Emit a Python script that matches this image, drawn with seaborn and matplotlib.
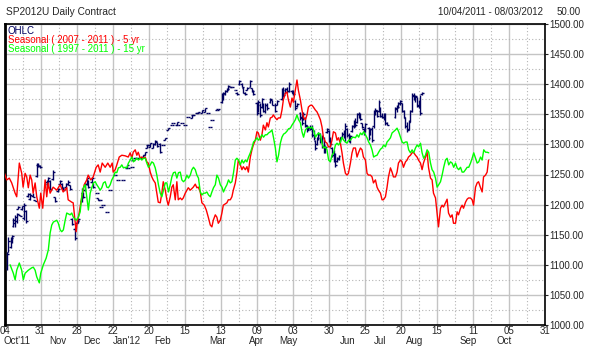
import numpy as np
import pandas as pd
import matplotlib
matplotlib.use("Agg")
import matplotlib.pyplot as plt
import matplotlib.transforms as mtransforms
from matplotlib.ticker import MultipleLocator, FormatStrFormatter
import seaborn as sns

# x axis is trading days counted from 04 Oct 2011
tick_days = list(range(0, 271, 18))
tick_labels = ['04', '31', '28', '22', '20', '15', '13', '09', '03',
               '30', '25', '20', '15', '11', '05', '31']
month_days = [-0.5, 26.8, 43.8, 61, 79, 106.5, 125.8, 141.8, 171.5, 187.8, 204.8, 231.5, 249.8]
month_labels = ["Oct'11", 'Nov', 'Dec', "Jan'12", 'Feb', 'Mar', 'Apr', 'May',
                'Jun', 'Jul', 'Aug', 'Sep', 'Oct']

# OHLC bars of the SP2012U contract
ohlc_day = [1.4, 1.9, 3.3, 3.6, 4.4, 5.3, 6.1, 6.8, 7.8, 8.6, 9.8, 10.8, 11.8, 12.8, 14.3, 15.3,
            16.1, 16.8, 17.8, 21.1, 21.8, 22.8, 24.3, 25.3, 26.8, 27.8, 28.6, 29.3, 30.8, 31.8,
            32.8, 33.8, 35.3, 36.1, 36.8, 38.6, 39.3, 40.3, 41.1, 41.9, 43.6, 44.4, 46.1, 46.8,
            47.8, 48.3, 49.3, 51.1, 52.8, 55.3, 56.8, 59.3, 61.1, 61.8, 63.6, 64.3, 65.3, 66.1,
            67.8, 69.3, 70.3, 71.1, 71.8, 72.8, 74.3, 75.3, 76.1, 77.8, 79.3, 80.3, 81.8, 83.8,
            84.3, 86.1, 86.8, 88.6, 90.3, 91.8, 93.6, 94.3, 96.1, 96.8, 98.6, 100.3, 101.8, 102.8,
            103.6, 106.1, 106.8, 108.6, 109.3, 110.3, 111.1, 111.8, 112.8, 113.6, 115.3, 116.1,
            117.3, 118.6, 119.3, 120.3, 121.1, 122.8, 123.6, 124.3, 126.1, 126.8, 127.8, 128.6,
            129.3, 130.3, 131.1, 132.8, 133.6, 135.3, 136.1, 138.6, 139.3, 140.3, 141.1, 142.3,
            143.6, 144.3, 145.3, 146.1, 147.8, 148.6, 149.3, 150.3, 151.1, 151.8, 152.8, 153.6,
            154.4, 155.3, 156.1, 156.8, 157.8, 158.6, 159.4, 160.3, 161.1, 161.9, 162.8, 163.6,
            164.4, 165.3, 166.1, 166.9, 167.8, 168.6, 169.4, 170.3, 171.1, 171.9, 172.8, 173.6,
            174.4, 175.3, 176.1, 176.9, 177.8, 178.6, 179.4, 180.3, 181.9, 182.8, 183.6, 184.4,
            185.3, 186.1, 186.9, 187.8, 188.6, 189.4, 190.3, 191.1, 195.3, 196.1, 196.8, 197.8,
            198.6, 199.4, 200.3, 201.1, 201.9, 202.8, 203.6, 204.4, 205.3, 206.1, 206.9, 207.8,
            208.6]
ohlc_high = [1121, 1146, 1146, 1150, 1178, 1183, 1186, 1198, 1183, 1198, 1203, 1191, 1219, 1219, 1219, 1208,
             1269, 1269, 1266, 1241, 1246, 1241, 1257, 1213, 1228, 1241, 1236, 1229, 1236, 1241,
             1233, 1178, 1163, 1174, 1178, 1228, 1221, 1236, 1246, 1241, 1246, 1236, 1219, 1211,
             1208, 1196, 1199, 1188, 1224, 1249, 1241, 1241, 1266, 1261, 1262, 1274, 1277, 1277,
             1277, 1282, 1287, 1299, 1299, 1302, 1302, 1307, 1304, 1302, 1299, 1311, 1327, 1332,
             1336, 1337, 1332, 1336, 1332, 1346, 1349, 1349, 1352, 1354, 1357, 1360, 1352, 1329,
             1341, 1357, 1359, 1385, 1387, 1390, 1394, 1399, 1395, 1395, 1390, 1387,
             1407, 1402, 1395, 1387, 1395, 1407, 1394, 1390, 1370, 1374, 1369, 1377,
             1369, 1369, 1369, 1377, 1374, 1369, 1374, 1394, 1395, 1394, 1395, 1404,
             1390, 1390, 1374, 1369, 1354, 1352, 1354, 1346, 1332, 1329, 1332, 1332,
             1324, 1307, 1312, 1321, 1319, 1316, 1312, 1299, 1327, 1324, 1312, 1296,
             1291, 1286, 1279, 1282, 1312, 1321, 1324, 1336, 1327, 1319, 1316, 1332,
             1341, 1344, 1352, 1354, 1352, 1336, 1327, 1336, 1329, 1327, 1329, 1357,
             1360, 1357, 1374, 1362, 1352, 1352, 1352, 1337, 1362, 1365, 1370, 1374,
             1369, 1357, 1346, 1337, 1341, 1357, 1385, 1385, 1382, 1379, 1374, 1382,
             1387]
ohlc_low = [1091, 1121, 1128, 1136, 1163, 1163, 1169, 1192, 1181, 1191, 1174, 1169, 1213, 1208, 1213, 1206,
            1246, 1262, 1261, 1228, 1233, 1224, 1241, 1204, 1221, 1233, 1226, 1224, 1228, 1233,
            1224, 1166, 1141, 1169, 1169, 1204, 1211, 1223, 1233, 1228, 1236, 1228, 1219, 1208,
            1208, 1196, 1199, 1188, 1224, 1249, 1241, 1241, 1261, 1261, 1262, 1274, 1277, 1277,
            1277, 1279, 1282, 1294, 1299, 1296, 1294, 1299, 1296, 1286, 1299, 1307, 1324, 1332,
            1336, 1332, 1332, 1336, 1332, 1346, 1344, 1349, 1352, 1352, 1352, 1354, 1352, 1329,
            1341, 1357, 1359, 1369, 1374, 1382, 1387, 1390, 1395, 1395, 1390, 1382,
            1399, 1395, 1385, 1382, 1390, 1395, 1387, 1382, 1349, 1354, 1346, 1360,
            1354, 1352, 1357, 1369, 1365, 1354, 1365, 1374, 1379, 1385, 1385, 1387,
            1385, 1382, 1357, 1362, 1341, 1332, 1341, 1329, 1321, 1324, 1324, 1312,
            1307, 1291, 1299, 1307, 1302, 1294, 1286, 1286, 1319, 1304, 1296, 1279,
            1271, 1262, 1271, 1274, 1304, 1312, 1311, 1304, 1312, 1304, 1302, 1321,
            1327, 1329, 1336, 1344, 1341, 1327, 1316, 1321, 1307, 1316, 1304, 1327,
            1349, 1346, 1354, 1346, 1344, 1341, 1332, 1332, 1344, 1354, 1360, 1365,
            1354, 1344, 1327, 1321, 1324, 1337, 1354, 1374, 1370, 1362, 1360, 1349,
            1382]
ohlc_open = [1095, 1122, 1130, 1140, 1165, 1170, 1172, 1192, 1183, 1192, 1178, 1190, 1214, 1210, 1215, 1208,
             1248, 1266, 1264, 1238, 1234, 1240, 1242, 1212, 1222, 1234, 1235, 1228, 1229, 1235,
             1232, 1176, 1160, 1170, 1170, 1206, 1219, 1224, 1235, 1240, 1238, 1235, 1219, 1211,
             1208, 1196, 1199, 1188, 1224, 1249, 1241, 1241, 1261, 1261, 1262, 1274, 1277, 1277,
             1277, 1279, 1282, 1294, 1299, 1296, 1294, 1300, 1304, 1300, 1299, 1307, 1324, 1332,
             1336, 1332, 1332, 1336, 1332, 1346, 1344, 1349, 1352, 1352, 1352, 1354, 1352, 1329,
             1341, 1357, 1359, 1370, 1376, 1384, 1388, 1391, 1395, 1395, 1390, 1386,
             1400, 1400, 1394, 1385, 1390, 1396, 1393, 1388, 1368, 1356, 1366, 1362,
             1366, 1355, 1366, 1370, 1373, 1366, 1366, 1376, 1390, 1386, 1392, 1388,
             1389, 1386, 1372, 1363, 1352, 1345, 1342, 1344, 1330, 1325, 1328, 1328,
             1315, 1305, 1300, 1310, 1316, 1305, 1298, 1290, 1320, 1322, 1308, 1294,
             1282, 1276, 1272, 1276, 1305, 1312, 1318, 1312, 1326, 1315, 1308, 1322,
             1330, 1338, 1338, 1350, 1346, 1335, 1326, 1322, 1327, 1317, 1325, 1330,
             1352, 1355, 1356, 1360, 1348, 1346, 1344, 1335, 1346, 1358, 1362, 1367,
             1368, 1355, 1344, 1330, 1326, 1338, 1356, 1380, 1376, 1378, 1364, 1370,
             1383]
ohlc_close = [1118, 1140, 1144, 1148, 1175, 1180, 1184, 1196, 1181, 1197, 1200, 1172, 1218, 1216, 1213, 1206,
              1265, 1264, 1262, 1230, 1244, 1226, 1254, 1206, 1226, 1240, 1228, 1225, 1234, 1238,
              1226, 1168, 1145, 1173, 1176, 1225, 1213, 1234, 1244, 1230, 1244, 1230, 1219, 1208,
              1208, 1196, 1199, 1188, 1224, 1249, 1241, 1241, 1266, 1261, 1262, 1274, 1277, 1277,
              1277, 1282, 1287, 1299, 1299, 1302, 1300, 1305, 1298, 1288, 1299, 1311, 1327, 1332,
              1336, 1337, 1332, 1336, 1332, 1346, 1349, 1349, 1352, 1354, 1357, 1360, 1352, 1329,
              1341, 1357, 1359, 1383, 1385, 1388, 1392, 1397, 1395, 1395, 1390, 1383,
              1405, 1396, 1386, 1383, 1394, 1405, 1388, 1383, 1352, 1370, 1349, 1375,
              1356, 1366, 1360, 1376, 1366, 1356, 1372, 1390, 1382, 1392, 1388, 1400,
              1386, 1384, 1360, 1367, 1344, 1336, 1350, 1332, 1324, 1328, 1326, 1315,
              1310, 1294, 1310, 1318, 1305, 1298, 1290, 1296, 1325, 1308, 1300, 1282,
              1276, 1266, 1277, 1280, 1310, 1318, 1314, 1330, 1315, 1308, 1314, 1330,
              1338, 1333, 1350, 1346, 1342, 1329, 1318, 1334, 1310, 1325, 1308, 1354,
              1357, 1348, 1370, 1348, 1346, 1344, 1335, 1333, 1360, 1362, 1368, 1372,
              1356, 1346, 1330, 1324, 1338, 1355, 1382, 1376, 1380, 1365, 1370, 1352,
              1386]

# Seasonal (2007 - 2011) 5 yr
red_day = [0.0, 1.1, 2.4, 3.6, 5.3, 6.1, 7.4, 8.6, 9.3, 10.3, 11.1, 11.9, 12.8, 13.6, 14.3, 15.3,
           16.1, 17.4, 18.1, 19.1, 20.3, 21.1, 21.8, 22.8, 24.3, 26.1, 27.8, 29.3, 31.1, 31.8,
           33.6, 34.3, 35.3, 35.8, 36.3, 37.3, 38.6, 39.8, 41.1, 41.8, 43.1, 44.3, 45.8, 46.8,
           47.8, 48.8, 50.3, 51.6, 52.8, 53.8, 54.3, 55.3, 56.1, 57.3, 58.6, 60.3, 61.8, 62.8,
           63.6, 64.3, 65.3, 66.1, 66.8, 67.8, 68.6, 69.3, 70.3, 71.1, 71.8, 72.8, 73.6, 74.3,
           75.3, 76.1, 76.8, 77.8, 78.6, 79.3, 80.3, 81.1, 81.8, 82.8, 83.6, 84.3, 85.3, 86.1,
           86.8, 87.8, 88.6, 89.3, 90.3, 91.8, 92.8, 94.3, 95.3, 96.1, 96.8, 97.8, 98.6, 99.8,
           100.8, 101.8, 102.8, 103.6, 104.3, 105.3, 106.1, 106.8, 107.8, 108.6, 109.3, 111.1,
           111.8, 112.8, 113.6, 114.3, 115.3, 116.1, 116.8, 117.8, 118.6, 119.3, 120.3, 121.1,
           121.8, 122.8, 123.6, 124.3, 125.3, 126.1, 126.8, 127.8, 128.6, 129.3, 130.3, 131.1,
           131.8, 132.8, 133.6, 134.3, 135.3, 136.1, 136.8, 137.8, 138.6, 139.3, 140.3, 141.1,
           141.8, 142.8, 143.6, 144.3, 145.3, 146.1, 146.8, 147.8, 148.6, 149.3, 150.3, 151.1,
           151.8, 152.8, 153.6, 154.3, 155.3, 156.1, 156.8, 157.8, 158.6, 159.3, 160.3, 161.1,
           161.8, 162.8, 163.6, 164.3, 165.3, 166.1, 166.8, 167.8, 168.6, 169.3, 170.3, 171.1,
           171.8, 172.8, 173.6, 174.3, 175.3, 176.1, 176.8, 177.8, 178.6, 179.3, 180.3, 181.1,
           181.8, 182.8, 183.6, 184.3, 185.3, 186.1, 186.8, 187.8, 188.6, 189.3, 190.3, 191.1,
           191.8, 192.8, 193.6, 194.3, 195.3, 196.1, 196.8, 197.8, 198.6, 199.3, 200.3, 201.1,
           201.8, 202.8, 203.6, 204.3, 205.3, 206.1, 206.8, 207.8, 208.6, 209.3, 210.3, 211.1,
           211.8, 212.8, 213.6, 214.3, 215.3, 216.1, 216.8, 217.8, 218.6, 219.3, 220.3, 221.1,
           221.8, 222.8, 223.6, 224.3, 225.3, 226.1, 226.8, 227.8, 228.6, 229.3, 230.3, 231.1,
           231.8, 232.8, 233.6, 234.3, 235.3, 236.1, 236.8, 237.8, 238.6, 239.3, 240.3, 241.1,
           241.8]
red_val = [1252, 1241, 1244, 1236, 1219, 1213, 1269, 1252, 1229, 1252, 1246, 1228, 1249, 1241, 1219, 1236,
           1213, 1194, 1219, 1194, 1241, 1213, 1236, 1219, 1229, 1224, 1233, 1221, 1228, 1208,
           1204, 1203, 1171, 1155, 1170, 1186, 1213, 1233, 1241, 1249, 1241, 1246, 1262, 1266,
           1254, 1269, 1262, 1269, 1262, 1269, 1254, 1258, 1266, 1279, 1282, 1281, 1279, 1286,
           1277, 1287, 1291, 1282, 1287, 1277, 1279, 1277, 1279, 1271, 1269, 1254, 1246, 1241,
           1236, 1219, 1204, 1203, 1219, 1238, 1224, 1208, 1199, 1213, 1229, 1233, 1208, 1238,
           1208, 1211, 1208, 1211, 1219, 1228, 1224, 1229, 1234, 1228, 1229, 1221, 1203, 1199,
           1191, 1179, 1166, 1163, 1174, 1183, 1179, 1169, 1174, 1186, 1199, 1203,
           1208, 1208, 1213, 1224, 1236, 1253, 1274, 1266, 1258, 1263, 1258, 1263,
           1254, 1279, 1291, 1299, 1307, 1321, 1319, 1307, 1316, 1332, 1324, 1336,
           1329, 1344, 1345, 1349, 1344, 1341, 1344, 1344, 1357, 1374, 1385, 1387,
           1374, 1362, 1377, 1370, 1390, 1407, 1390, 1374, 1357, 1345, 1341, 1349,
           1362, 1365, 1365, 1362, 1357, 1354, 1349, 1341, 1329, 1312, 1304, 1302,
           1296, 1296, 1307, 1321, 1319, 1307, 1311, 1302, 1286, 1269, 1252, 1249,
           1252, 1269, 1286, 1294, 1294, 1279, 1286, 1294, 1291, 1279, 1274, 1252,
           1249, 1249, 1246, 1236, 1241, 1229, 1224, 1219, 1208, 1208, 1213, 1229,
           1246, 1261, 1254, 1246, 1246, 1254, 1269, 1274, 1271, 1262, 1271, 1274,
           1279, 1282, 1286, 1287, 1282, 1279, 1274, 1269, 1258, 1269, 1279, 1287,
           1262, 1244, 1241, 1219, 1211, 1186, 1163, 1194, 1199, 1196, 1203, 1209,
           1186, 1179, 1183, 1169, 1169, 1188, 1183, 1194, 1199, 1194, 1204, 1209,
           1211, 1211, 1208, 1199, 1229, 1236, 1238, 1228, 1221, 1246, 1249, 1254,
           1274]

# Seasonal (1997 - 2011) 15 yr
green_day = [2.8, 4.4, 5.3, 6.1, 7.4, 8.6, 9.4, 10.3, 11.9, 13.6, 14.4, 15.3, 16.1, 17.4, 18.1, 19.4,
             20.8, 21.9, 22.8, 23.6, 24.4, 26.1, 26.9, 27.8, 28.6, 29.4, 30.3, 31.1, 32.8, 33.6,
             34.4, 35.8, 36.9, 37.8, 38.6, 39.4, 40.3, 41.1, 41.9, 42.8, 43.6, 44.4, 45.3, 46.1,
             46.9, 47.8, 48.6, 49.4, 50.3, 51.1, 51.9, 52.8, 53.6, 54.4, 55.3, 56.1, 56.9, 57.8,
             58.6, 59.4, 60.3, 61.1, 61.9, 62.8, 63.6, 64.4, 65.3, 66.1, 66.9, 67.8, 68.6, 69.4,
             70.3, 71.1, 71.9, 72.8, 73.6, 74.4, 75.3, 76.1, 76.9, 77.8, 78.6, 79.4, 80.3, 81.1,
             81.9, 82.8, 83.6, 84.4, 85.3, 86.1, 86.9, 87.8, 88.6, 89.4, 90.3, 91.1, 91.9, 92.8,
             93.6, 94.4, 95.3, 96.1, 96.9, 97.8, 98.6, 99.4, 100.3, 101.1, 101.9, 102.8, 103.6,
             104.4, 105.3, 106.1, 106.9, 107.8, 108.6, 109.4, 110.3, 111.1, 111.9, 112.8, 113.6,
             114.4, 115.3, 116.1, 116.9, 117.8, 118.6, 119.4, 120.3, 121.1, 121.9, 122.8, 123.6,
             124.4, 125.3, 126.1, 126.9, 127.8, 128.6, 129.4, 130.3, 131.1, 131.9, 132.8, 133.6,
             134.4, 135.3, 136.1, 136.9, 137.8, 138.6, 139.4, 140.3, 141.1, 141.9, 142.8, 143.6,
             144.4, 145.3, 146.1, 146.9, 147.8, 148.6, 149.4, 150.3, 151.1, 151.9, 152.8, 153.6,
             154.4, 155.3, 156.1, 156.9, 157.8, 158.6, 159.4, 160.3, 161.1, 161.9, 162.8, 163.6,
             164.4, 165.3, 166.1, 166.9, 167.8, 168.6, 169.4, 170.3, 171.1, 171.9, 172.8, 173.6,
             174.4, 175.3, 176.1, 176.9, 177.8, 178.6, 179.4, 180.3, 181.1, 181.9, 182.8, 183.6,
             184.4, 185.3, 186.1, 186.9, 187.8, 188.6, 189.4, 190.3, 191.1, 191.9, 192.8, 193.6,
             195.3, 196.1, 196.9, 197.8, 198.6, 199.4, 200.3, 201.1, 201.9, 202.8, 203.6, 204.4,
             205.3, 206.1, 206.9, 207.8, 208.6, 209.4, 210.3, 211.1, 211.9, 212.8, 213.6, 214.4,
             215.3, 216.1, 216.9, 217.8, 218.6, 219.4, 220.3, 221.1, 221.9, 222.8, 223.6, 224.4,
             225.3, 226.1, 226.9, 227.8, 228.6, 229.4, 230.3, 231.1, 231.9, 232.8, 233.6, 234.4,
             235.3, 236.1, 236.9, 237.8, 238.6, 239.4, 240.3, 241.1, 241.9]
green_val = [1100, 1086, 1075, 1091, 1103, 1091, 1075, 1086, 1091, 1095, 1096, 1091, 1080, 1070, 1086, 1100,
             1111, 1125, 1153, 1166, 1171, 1174, 1169, 1158, 1155, 1158, 1174, 1186, 1183, 1186,
             1179, 1174, 1179, 1188, 1213, 1228, 1233, 1213, 1191, 1219, 1228, 1236, 1238, 1233,
             1229, 1224, 1228, 1236, 1238, 1229, 1228, 1233, 1241, 1246, 1254, 1253, 1261, 1262,
             1266, 1261, 1262, 1261, 1269, 1274, 1279, 1271, 1274, 1277, 1274, 1277, 1274, 1277,
             1277, 1269, 1262, 1266, 1271, 1269, 1261, 1249, 1233, 1219, 1213, 1224, 1236, 1236,
             1221, 1233, 1246, 1253, 1254, 1244, 1253, 1254, 1241, 1238, 1241, 1249, 1244, 1249,
             1258, 1262, 1258, 1249, 1244, 1221, 1216, 1219, 1219, 1221, 1216, 1213, 1221,
             1228, 1233, 1249, 1244, 1233, 1229, 1221, 1228, 1233, 1241, 1236, 1238,
             1253, 1274, 1277, 1274, 1266, 1274, 1269, 1274, 1271, 1279, 1286, 1294,
             1304, 1307, 1311, 1307, 1311, 1316, 1312, 1316, 1316, 1319, 1321, 1324,
             1311, 1294, 1271, 1282, 1302, 1312, 1317, 1319, 1322, 1326, 1327, 1332,
             1336, 1341, 1349, 1341, 1336, 1321, 1312, 1324, 1327, 1329, 1327, 1329,
             1324, 1312, 1316, 1319, 1316, 1302, 1294, 1296, 1291, 1274, 1271, 1282,
             1286, 1299, 1302, 1299, 1304, 1312, 1307, 1304, 1302, 1307, 1307, 1311,
             1312, 1311, 1316, 1312, 1319, 1316, 1321, 1316, 1311, 1304, 1299, 1291,
             1279, 1281, 1282, 1287, 1292, 1294, 1299, 1296, 1304, 1307, 1311, 1319,
             1324, 1327, 1321, 1312, 1304, 1302, 1304, 1304, 1291, 1286, 1291, 1286,
             1294, 1299, 1296, 1302, 1286, 1277, 1282, 1291, 1287, 1269, 1258, 1254,
             1244, 1229, 1233, 1238, 1249, 1262, 1274, 1277, 1266, 1271, 1269, 1262,
             1269, 1261, 1258, 1262, 1254, 1254, 1258, 1262, 1262, 1269, 1277, 1286,
             1277, 1269, 1271, 1279, 1274, 1291, 1287, 1287, 1286]

red_df = pd.DataFrame({'day': red_day, 'value': red_val})
green_df = pd.DataFrame({'day': green_day, 'value': green_val})

sns.set_style('white')
plt.rcParams['font.family'] = ['Liberation Sans', 'DejaVu Sans']

fig = plt.figure(figsize=(5.95, 3.55), dpi=100)
ax = fig.add_axes([4.5 / 595, 30 / 355, 540.5 / 595, 301 / 355])

navy = '#000060'
ax.vlines(ohlc_day, ohlc_low, ohlc_high, color=navy, lw=1.0, zorder=3)
ax.hlines(ohlc_open, np.array(ohlc_day) - 0.9, ohlc_day, color=navy, lw=1.0, zorder=3)
ax.hlines(ohlc_close, ohlc_day, np.array(ohlc_day) + 0.9, color=navy, lw=1.0, zorder=3)

sns.lineplot(data=red_df, x='day', y='value', ax=ax, color='#ff0000', lw=1.0,
             sort=False, estimator=None, zorder=4)
sns.lineplot(data=green_df, x='day', y='value', ax=ax, color='#00ff00', lw=1.0,
             sort=False, estimator=None, zorder=4)

ax.set_xlim(0, 270)
ax.set_ylim(1000, 1500)
ax.set_xlabel('')
ax.set_ylabel('')

ax.set_xticks(tick_days)
ax.set_xticklabels(tick_labels, fontsize=7)
ax.xaxis.set_minor_locator(MultipleLocator(9))
ax.yaxis.set_major_locator(MultipleLocator(50))
ax.yaxis.set_minor_locator(MultipleLocator(25))
ax.yaxis.set_major_formatter(FormatStrFormatter('%.2f'))
ax.yaxis.tick_right()
ax.tick_params(axis='y', which='major', labelsize=7, length=2, pad=1, direction='out', right=True)
ax.tick_params(axis='x', which='major', length=0, pad=1)
ax.tick_params(which='minor', length=0)

ax.grid(which='major', color='#c4c4c4', lw=1.0, ls='-', zorder=0)
ax.grid(which='minor', color='#b4b4b4', lw=0.8, ls=(0, (1, 2)), zorder=0)
ax.set_axisbelow(True)

for side in ['top', 'right', 'bottom']:
    ax.spines[side].set_color('black')
    ax.spines[side].set_linewidth(1.2)
ax.spines['left'].set_color('black')
ax.spines['left'].set_linewidth(2.0)

# month names below the day numbers
trans = mtransforms.blended_transform_factory(ax.transData, ax.transAxes)
for d, m in zip(month_days, month_labels):
    ax.text(d, -0.036, m, transform=trans, ha='left' if d < 0 else 'center',
            va='top', fontsize=7)

# legend lines in the top left corner
ax.text(3.5 / 540.5, 1 - 7 / 301, 'OHLC', transform=ax.transAxes, color=navy,
        fontsize=7, va='center', ha='left')
ax.text(3.5 / 540.5, 1 - 16 / 301, 'Seasonal ( 2007 - 2011 ) - 5 yr', transform=ax.transAxes,
        color='#ff0000', fontsize=7, va='center', ha='left')
ax.text(3.5 / 540.5, 1 - 25 / 301, 'Seasonal ( 1997 - 2011 ) - 15 yr', transform=ax.transAxes,
        color='#00ff00', fontsize=7, va='center', ha='left')

fig.text(6 / 595, 1 - 12 / 355, 'SP2012U Daily Contract', fontsize=7.3, va='center', ha='left')
fig.text(543 / 595, 1 - 12 / 355, '10/04/2011 - 08/03/2012', fontsize=7, va='center', ha='right')
fig.text(581 / 595, 1 - 12 / 355, '50.00', fontsize=7, va='center', ha='right')

fig.savefig('out.png', dpi=100, facecolor='white')
